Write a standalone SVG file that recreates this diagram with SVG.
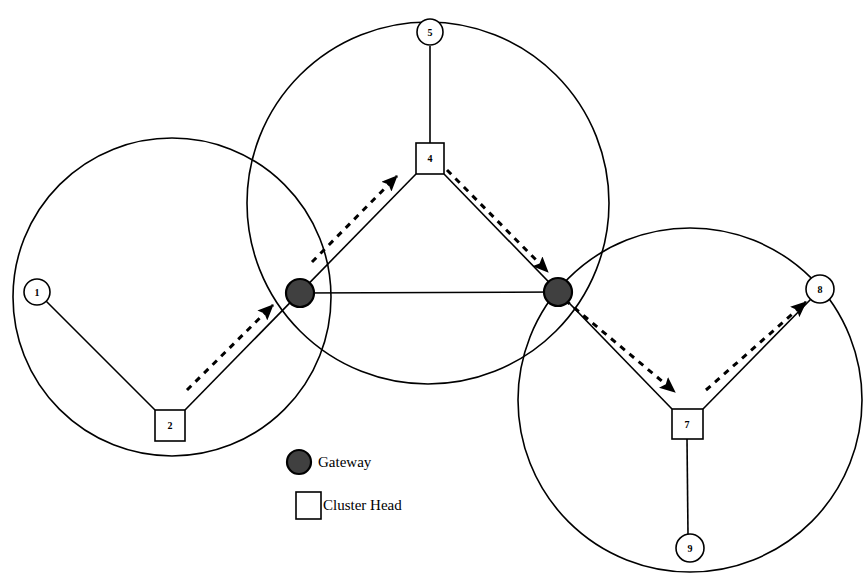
<svg xmlns="http://www.w3.org/2000/svg" width="863" height="576" viewBox="0 0 863 576">
<defs>
<style>
.range{fill:none;stroke:#000;stroke-width:1.6}
.link{stroke:#000;stroke-width:1.6;fill:none}
.flow{stroke:#000;stroke-width:3;stroke-dasharray:6 6;fill:none}
.node{fill:#fff;stroke:#000;stroke-width:1.6}
.gw{fill:#404040;stroke:#000;stroke-width:2.2}
.lbl{font-family:"Liberation Serif",serif;font-weight:bold;font-size:10px;text-anchor:middle}
.leg{font-family:"Liberation Serif",serif;font-size:15px}
</style>
<marker id="ah" markerWidth="16" markerHeight="14" refX="15" refY="7" orient="auto" markerUnits="userSpaceOnUse">
<path d="M0,0 L16,7 L0,14 L3,7 Z" fill="#000"/>
</marker>
</defs>
<rect width="863" height="576" fill="#fff"/>
<g id="ranges">
<circle class="range" cx="172" cy="297" r="159"/>
<circle class="range" cx="428" cy="203" r="181"/>
<circle class="range" cx="690" cy="400" r="172"/>
</g>
<g id="connectors">
<line class="link" x1="46" y1="301" x2="155" y2="410"/>
<line class="link" x1="185" y1="410" x2="416" y2="174"/>
<line class="link" x1="444" y1="174" x2="672" y2="409"/>
<line class="link" x1="300" y1="293" x2="558" y2="292"/>
<line class="link" x1="430" y1="46" x2="430" y2="143"/>
<line class="link" x1="687" y1="439" x2="688" y2="534"/>
<line class="link" x1="703" y1="409" x2="811" y2="299"/>
<line class="flow" x1="187" y1="390" x2="273" y2="305" marker-end="url(#ah)"/>
<line class="flow" x1="312" y1="262" x2="397" y2="176" marker-end="url(#ah)"/>
<line class="flow" x1="447" y1="170" x2="548" y2="272" marker-end="url(#ah)"/>
<line class="flow" x1="565" y1="300" x2="675" y2="392" marker-end="url(#ah)"/>
<line class="flow" x1="706" y1="390" x2="806" y2="302" marker-end="url(#ah)"/>
</g>
<g id="n1"><circle class="node" cx="37" cy="292" r="13"/><text class="lbl" x="37" y="296">1</text></g>
<g id="n2"><rect class="node" x="155" y="410" width="30" height="31"/><text class="lbl" x="170" y="429">2</text></g>
<g id="n5"><circle class="node" cx="430" cy="32" r="13"/><text class="lbl" x="430" y="36">5</text></g>
<g id="n4"><rect class="node" x="416" y="143" width="28" height="31"/><text class="lbl" x="430" y="162">4</text></g>
<g id="gw1"><circle class="gw" cx="300" cy="293" r="14"/></g>
<g id="gw2"><circle class="gw" cx="558" cy="292" r="14"/></g>
<g id="n7"><rect class="node" x="672" y="409" width="31" height="30"/><text class="lbl" x="687" y="428">7</text></g>
<g id="n8"><circle class="node" cx="820" cy="289" r="14"/><text class="lbl" x="820" y="293">8</text></g>
<g id="n9"><circle class="node" cx="690" cy="548" r="14"/><text class="lbl" x="690" y="552">9</text></g>
<g id="legend">
<circle class="gw" cx="299" cy="462" r="12"/>
<text class="leg" x="318" y="467">Gateway</text>
<rect class="node" x="296" y="492" width="25" height="27"/>
<text class="leg" x="323" y="510">Cluster Head</text>
</g>
</svg>
